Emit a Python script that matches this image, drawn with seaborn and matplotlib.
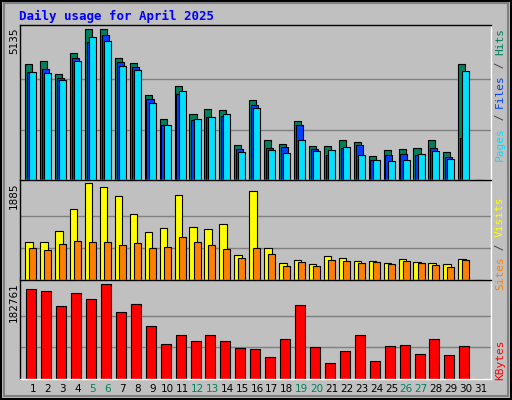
import numpy as np
import matplotlib
matplotlib.use("Agg")
import matplotlib.pyplot as plt
import seaborn as sns
import pandas as pd

days = list(range(1, 32))
hits = [3950, 4055, 3602, 4334, 5135, 5130, 4160, 3985, 2905, 2068, 3183, 2242, 2417, 2382, 1197,
        2730, 1371, 1232, 1998, 1162, 1162, 1371, 1301, 813, 1022, 1057, 1092, 1371, 953, 3950, 0]
files = [3671, 3776, 3462, 4160, 4682, 4926, 4020, 3846, 2765, 1859, 2939, 2033, 2138, 2173, 1057,
         2556, 1092, 1127, 1859, 1057, 848, 1092, 1197, 674, 848, 883, 848, 1092, 778, 1441, 0]
pages = [3671, 3637, 3393, 4055, 4857, 4717, 3881, 3741, 2626, 1859, 3044, 2068, 2138, 2242, 953,
         2452, 1022, 918, 1371, 988, 1022, 1127, 848, 674, 639, 674, 883, 988, 709, 3706, 0]
visits = [739, 739, 963, 1390, 1885, 1824, 1641, 1288, 942, 1024, 1661, 1044, 1003, 1085, 495,
          1743, 617, 332, 393, 312, 475, 434, 373, 373, 332, 414, 353, 332, 312, 414, 0]
sites = [617, 576, 698, 759, 739, 739, 678, 719, 617, 637, 841, 739, 678, 597, 434,
         617, 515, 271, 353, 271, 393, 373, 332, 353, 312, 373, 332, 292, 251, 393, 0]
kbytes = [172760, 168750, 140740, 164750, 152750, 182761, 128730, 144740, 102720, 66700, 84710,
          72700, 84710, 72700, 58700, 56700, 42690, 76700, 142740, 60700, 30680, 54690, 84710,
          34680, 62700, 64700, 48690, 76700, 46690, 62700, 0]
weekends = [5, 6, 12, 13, 19, 20, 26, 27]

sns.set_theme(style="white")
plt.rcParams['font.family'] = ['DejaVu Sans Mono', 'DejaVu Sans']
BG = "#c0c0c0"

fig = plt.figure(figsize=(5.12, 4.0), dpi=100, facecolor=BG)
W, H = 512, 400

def panel(top, bottom, maxval, label):
    ax = fig.add_axes([20 / W, (H - bottom) / H, 471 / W, (bottom - top) / H])
    ax.set_facecolor(BG)
    ax.set_xlim(0.13, 31.67)
    for s in ax.spines.values():
        s.set_color("black")
        s.set_linewidth(1)
    ax.spines["right"].set_color("white")
    ax.spines["bottom"].set_color("white")
    ax.set_xticks([])
    ax.set_yticks([])
    for g in (maxval / 3, maxval * 2 / 3):
        ax.axhline(g, color="#808080", lw=1, zorder=0)
    fig.text(14 / W, 1 - (top + 2) / H, label, rotation=90, va="top", ha="center",
             fontsize=7.5, family="DejaVu Sans", color="black")
    return ax

x = np.array(days, dtype=float)
ec = dict(edgecolor="black", linewidth=0.8, align="edge")

# top: hits / files / pages
ax1 = panel(25, 180, 5135, "5135")
ax1.set_ylim(0, 5135 * 152 / 148)
ax1.bar(x - 0.52, hits, width=0.47, color="#00805c", **ec)
ax1.bar(x - 0.40, files, width=0.47, color="#0040ff", **ec)
ax1.bar(x - 0.25, pages, width=0.47, color="#00e0ff", **ec)

# middle: visits / sites
ax2 = panel(180, 280, 1885, "1885")
ax2.set_ylim(0, 1885 * 96 / 92.7)
ax2.bar(x - 0.52, visits, width=0.5, color="#ffff00", **ec)
ax2.bar(x - 0.25, sites, width=0.47, color="#ff8000", **ec)

# bottom: kbytes
ax3 = panel(280, 379, 182761, "182761")
ax3.set_ylim(0, 182761 * 95 / 91.3)
df = pd.DataFrame({"day": x - 0.45, "kb": kbytes})
ax3.bar(df["day"], df["kb"], width=0.67, color="#ff0000", **ec)
for d in days:
    ax3.annotate(str(d), xy=(d, 0), xycoords=("data", "axes fraction"),
                 xytext=(0, -10), textcoords="offset pixels", ha="center", va="center",
                 fontsize=7.5, family="DejaVu Sans",
                 color="#00805c" if d in weekends else "black", annotation_clip=False)

fig.text(19 / W, 1 - 16 / H, "Daily usage for April 2025", color="#0000ff",
         fontsize=9, fontweight="bold", va="center", ha="left")

def side_label(parts, top_px):
    y = top_px
    for txt, col in parts:
        fig.text(500 / W, 1 - y / H, txt, color=col, rotation=90, fontsize=8,
                 ha="center", va="top")
        y += len(txt) * 6.6

side_label([("Hits", "#00805c"), (" / ", "#404040"), ("Files", "#0040ff"),
            (" / ", "#404040"), ("Pages", "#00e0ff")], 28)
side_label([("Visits", "#ffff00"), (" / ", "#404040"), ("Sites", "#ff8000")], 197)
side_label([("KBytes", "#ff0000")], 160 + 180)

# outer frame
fig.patches.append(plt.Rectangle((0.002, 0.002), 0.996, 0.996, transform=fig.transFigure,
                                 fill=False, edgecolor="black", lw=1.5))
fig.patches.append(plt.Rectangle((0.008, 0.01), 0.985, 0.982, transform=fig.transFigure,
                                 fill=False, edgecolor="#808080", lw=1.5))

fig.savefig("out.png", dpi=100, facecolor=BG)
